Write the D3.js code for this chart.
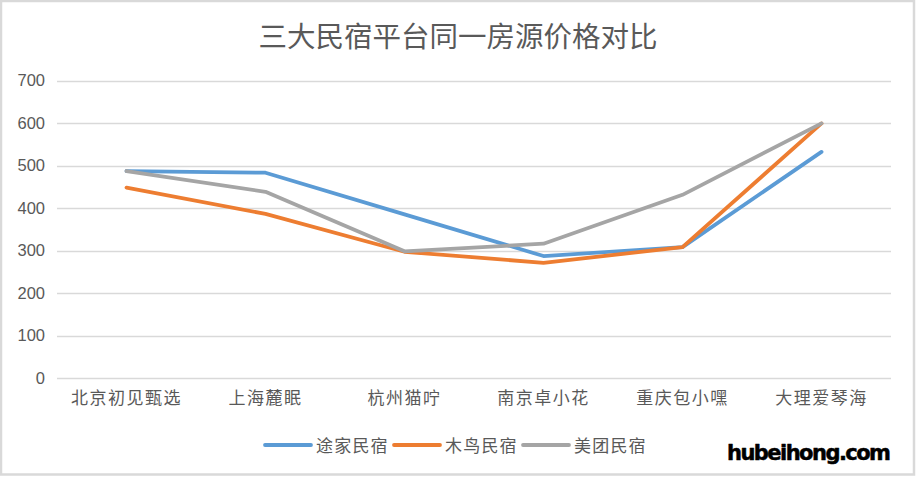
<!DOCTYPE html>
<html lang="zh">
<head>
	<meta charset="utf-8" />
	<title>三大民宿平台同一房源价格对比</title>
	<script src="https://d3js.org/d3.v7.min.js"></script>
	<style>
		html, body { margin: 0; padding: 0; background: #fff; }
		svg { display: block; }
		text { font-family: "Noto Sans CJK SC", "Noto Sans", sans-serif; }
	</style>
</head>
<body>
<script>
// data
const houses = ["北京初见甄选", "上海麓眠", "杭州猫咛", "南京卓小花", "重庆包小嘿", "大理爱琴海"];
const tujia = [487, 483, 385, 287, 308, 532];
const muniao = [448, 386, 297, 271, 308, 599];
const meituan = [487, 438, 298, 316, 431, 599];
const seriesNames = ["途家民宿", "木鸟民宿", "美团民宿"];
const yTicks = [0, 100, 200, 300, 400, 500, 600, 700];

const colors = ["#5b9bd5", "#ed7d31", "#a5a5a5"];
const allSeries = [tujia, muniao, meituan];

const W = 916, H = 477;
const svg = d3.select("body").append("svg")
	.attr("width", W)
	.attr("height", H);

// frame
svg.append("rect")
	.attr("x", 1).attr("y", 1)
	.attr("width", 913).attr("height", 473.5)
	.attr("fill", "#fff")
	.attr("stroke", "#d9d9d9")
	.attr("stroke-width", 2.5);

// title
svg.append("text")
	.attr("x", 458).attr("y", 47)
	.attr("text-anchor", "middle")
	.attr("font-size", 28.5)
	.attr("fill", "#595959")
	.text("三大民宿平台同一房源价格对比");

let x = d3.scaleBand().domain(houses).range([57, 891]);
let y = d3.scaleLinear().domain([0, 700]).range([378, 80.5]);

// gridlines
svg.append("g")
	.selectAll("line")
	.data(yTicks)
	.enter()
	.append("line")
	.attr("x1", 57).attr("x2", 891)
	.attr("y1", d => Math.round(y(d)) + 0.5)
	.attr("y2", d => Math.round(y(d)) + 0.5)
	.attr("stroke", "#d9d9d9")
	.attr("stroke-width", 1.3);

// y axis labels
let yAxis = svg.append("g")
	.attr("transform", "translate(51,0)")
	.call(d3.axisLeft(y).tickValues(yTicks).tickSize(0).tickPadding(6));
yAxis.select(".domain").remove();
yAxis.selectAll("text")
	.attr("font-size", 16.5)
	.attr("fill", "#595959")
	.style("font-family", "'Liberation Sans', 'Noto Sans', sans-serif");

// x axis labels
let xAxis = svg.append("g")
	.attr("transform", "translate(0,378)")
	.call(d3.axisBottom(x).tickSize(0).tickPadding(14));
xAxis.select(".domain").remove();
xAxis.selectAll("text")
	.attr("font-size", 17)
	.attr("letter-spacing", 1.5)
	.attr("fill", "#595959");

// lines
let line = d3.line()
	.x((d, i) => x(houses[i]) + x.bandwidth() / 2)
	.y(d => y(d));

svg.append("g")
	.selectAll("path")
	.data(allSeries)
	.enter()
	.append("path")
	.attr("d", d => line(d))
	.attr("fill", "none")
	.attr("stroke", (d, i) => colors[i])
	.attr("stroke-width", 3.8)
	.attr("stroke-linecap", "round")
	.attr("stroke-linejoin", "round");

// legend
let legendX = [265, 394, 523];
let legend = svg.append("g")
	.selectAll("g")
	.data(seriesNames)
	.enter()
	.append("g")
	.attr("transform", (d, i) => "translate(" + legendX[i] + ",445)");
legend.append("line")
	.attr("x1", 0).attr("x2", 46)
	.attr("stroke", (d, i) => colors[i])
	.attr("stroke-width", 3.8)
	.attr("stroke-linecap", "round");
legend.append("text")
	.attr("x", 51).attr("y", 6.5)
	.attr("font-size", 17)
	.attr("letter-spacing", 1.2)
	.attr("fill", "#595959")
	.text(d => d);

// watermark
svg.append("text")
	.attr("x", 727).attr("y", 460)
	.attr("font-size", 21)
	.attr("font-weight", "bold")
	.attr("textLength", 164)
	.attr("fill", "#000")
	.attr("stroke", "#000")
	.attr("stroke-width", 0.5)
	.attr("stroke-linejoin", "round")
	.style("font-family", "'DejaVu Sans', sans-serif")
	.text("hubeihong.com");
</script>
</body>
</html>
